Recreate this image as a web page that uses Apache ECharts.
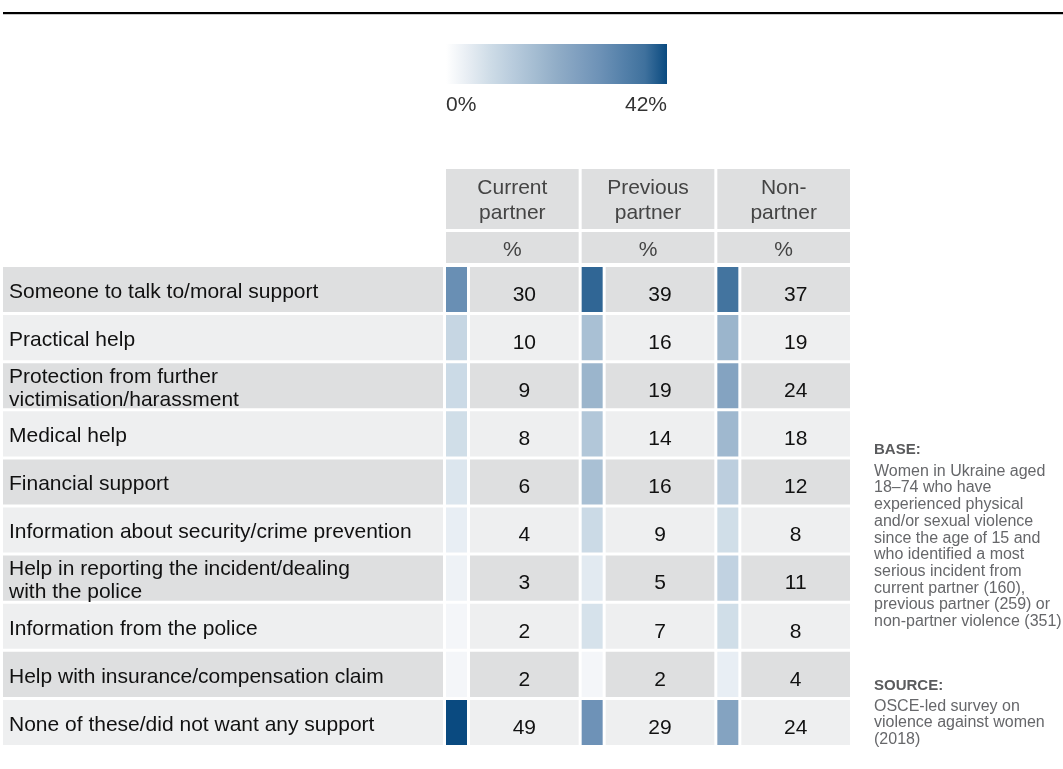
<!DOCTYPE html>
<html>
<head>
<meta charset="utf-8">
<title>Support wanted after the most serious incident</title>
<script src="https://cdn.jsdelivr.net/npm/echarts@6/dist/echarts.min.js"></script>
<style>
  html, body { margin: 0; padding: 0; background: #ffffff; }
  #chart { width: 1063px; height: 769px; }
</style>
</head>
<body>
<div id="chart"></div>
<script>
// ---- data ----
const supportTypes = [
  'Someone to talk to/moral support',
  'Practical help',
  'Protection from further\nvictimisation/harassment',
  'Medical help',
  'Financial support',
  'Information about security/crime prevention',
  'Help in reporting the incident/dealing\nwith the police',
  'Information from the police',
  'Help with insurance/compensation claim',
  'None of these/did not want any support'
];
const perpetratorGroups = ['Current\npartner', 'Previous\npartner', 'Non-\npartner'];
const currentPartner  = [30, 10,  9,  8,  6, 4,  3, 2, 2, 49];
const previousPartner = [39, 16, 19, 14, 16, 9,  5, 7, 2, 29];
const nonPartner      = [37, 19, 24, 18, 12, 8, 11, 8, 4, 24];
const scaleMin = 0;
const scaleMax = 42;
const unitLabel = '%';

const baseNote = 'Women in Ukraine aged\n18\u201374 who have\nexperienced physical\nand/or sexual violence\nsince the age of 15 and\nwho identified a most\nserious incident from\ncurrent partner (160),\nprevious partner (259) or\nnon-partner violence (351)';
const sourceNote = 'OSCE-led survey on\nviolence against women\n(2018)';

// ---- styling ----
const FONT = '"Liberation Sans", Arial, Helvetica, sans-serif';
const FS = 21;
const GAP = 3;
const SWATCH_W = 21;
const ROW_DARK = '#dedfe0';
const ROW_LIGHT = '#eeeff0';
const rampColors = ['#ffffff', '#e7edf3', '#cedce7', '#b9ccdd', '#a5bdd2', '#91adc7',
                    '#7f9fbf', '#6c91b6', '#5581aa', '#3f719d', '#0a4a80'];

const groupValues = [currentPartner, previousPartner, nonPartner];
const cellData = [];
groupValues.forEach((vals, c) => vals.forEach((v, r) => cellData.push([c, r, v])));
const labelData = supportTypes.map((_, r) => [0, r]);

const rowFill = (r) => (r % 2 === 0 ? ROW_DARK : ROW_LIGHT);

const chart = echarts.init(document.getElementById('chart'), null, { renderer: 'canvas' });

const gridValuesWidth = 407;
const bandW = gridValuesWidth / perpetratorGroups.length;
const boxW = bandW - GAP;

// colour bar for the legend, built from the same ramp the cells use
const legendGradient = new echarts.graphic.LinearGradient(0, 0, 1, 0,
  rampColors.map((color, i) => ({ offset: i / (rampColors.length - 1), color })));

const option = {
  animation: false,
  textStyle: { fontFamily: FONT },
  grid: [
    { left: 3, top: 267, width: 443, height: 481 },
    { left: 446, top: 267, width: gridValuesWidth, height: 481 }
  ],
  xAxis: [
    { gridIndex: 0, type: 'category', data: [''], show: false },
    {
      gridIndex: 1, type: 'category', data: perpetratorGroups, position: 'top',
      axisLine: { show: false }, axisTick: { show: false }, splitLine: { show: false },
      axisLabel: {
        interval: 0, margin: 4, hideOverlap: false,
        formatter: (name) => {
          const lines = name.split('\n').map((l) => `{h|${l}}{s| }`);
          return [`{gt| }{s| }`, ...lines, `{gb| }{s| }`, `{w| }`,
                  `{pt| }{s| }`, `{p|${unitLabel}}{s| }`].join('\n');
        },
        rich: {
          h:  { width: boxW, height: 25, lineHeight: 25, backgroundColor: ROW_DARK, align: 'center',
                fontSize: FS, color: '#444444', fontFamily: FONT },
          gt: { width: boxW, height: 7, lineHeight: 7, fontSize: 1, backgroundColor: ROW_DARK, align: 'center' },
          gb: { width: boxW, height: 3, lineHeight: 3, fontSize: 1, backgroundColor: ROW_DARK, align: 'center' },
          pt: { width: boxW, height: 6, lineHeight: 6, fontSize: 1, backgroundColor: ROW_DARK, align: 'center' },
          p:  { width: boxW, height: 25, lineHeight: 25, backgroundColor: ROW_DARK, align: 'center',
                fontSize: FS, color: '#444444', fontFamily: FONT },
          s:  { width: GAP, height: 1, lineHeight: 1, fontSize: 1, align: 'right' },
          w:  { width: 1, height: GAP, lineHeight: GAP, fontSize: 1 }
        }
      }
    }
  ],
  yAxis: [
    { gridIndex: 0, type: 'category', data: supportTypes, inverse: true, show: false },
    { gridIndex: 1, type: 'category', data: supportTypes, inverse: true, show: false }
  ],
  visualMap: {
    type: 'continuous',
    show: false,
    seriesIndex: 1,
    dimension: 2,
    min: scaleMin,
    max: scaleMax,
    inRange: { color: rampColors }
  },
  graphic: [
    { type: 'line', shape: { x1: 3, y1: 13, x2: 1063, y2: 13 }, style: { stroke: '#000000', lineWidth: 2 } },
    { type: 'line', shape: { x1: 3, y1: 14.5, x2: 1063, y2: 14.5 }, style: { stroke: '#c8c8c8', lineWidth: 1 } },
    { type: 'rect', shape: { x: 446, y: 44, width: 221, height: 40 }, style: { fill: legendGradient } },
    { type: 'text', left: 446, top: 95, style: { text: scaleMin + unitLabel, font: `${FS}px ${FONT}`, fill: '#333333' } },
    { type: 'text', right: 1063 - 667, top: 95, style: { text: scaleMax + unitLabel, font: `${FS}px ${FONT}`, fill: '#333333', textAlign: 'right' } },
    { type: 'text', left: 874, top: 442, style: { text: 'BASE:', font: `bold 15px ${FONT}`, fill: '#5a5b5d' } },
    { type: 'text', left: 874, top: 463, style: { text: baseNote, font: `16px ${FONT}`, lineHeight: 16.7, fill: '#66676a' } },
    { type: 'text', left: 874, top: 678, style: { text: 'SOURCE:', font: `bold 15px ${FONT}`, fill: '#5a5b5d' } },
    { type: 'text', left: 874, top: 698, style: { text: sourceNote, font: `16px ${FONT}`, lineHeight: 16.7, fill: '#66676a' } }
  ],
  series: [
    {
      // row label column
      type: 'custom',
      xAxisIndex: 0, yAxisIndex: 0,
      data: labelData,
      encode: { x: 0, y: 1 },
      silent: true,
      renderItem: (params, api) => {
        const r = api.value(1);
        const c = api.coord([api.value(0), r]);
        const s = api.size([1, 1]);
        const x0 = c[0] - s[0] / 2, y0 = c[1] - s[1] / 2;
        const w = s[0] - GAP, h = s[1] - GAP;
        return {
          type: 'group',
          children: [
            { type: 'rect', shape: { x: x0, y: y0, width: w, height: h }, style: { fill: rowFill(r) } },
            { type: 'text', x: x0 + 6, y: y0 + h / 2 + 2.5,
              style: { text: supportTypes[r], font: `${FS}px ${FONT}`, fill: '#111111',
                       textAlign: 'left', textVerticalAlign: 'middle', lineHeight: 23 } }
          ]
        };
      }
    },
    {
      // colour swatch + value cell per group
      type: 'custom',
      xAxisIndex: 1, yAxisIndex: 1,
      data: cellData,
      encode: { x: 0, y: 1 },
      silent: true,
      renderItem: (params, api) => {
        const r = api.value(1);
        const v = api.value(2);
        const c = api.coord([api.value(0), r]);
        const s = api.size([1, 1]);
        const x0 = c[0] - s[0] / 2, y0 = c[1] - s[1] / 2;
        const w = s[0] - GAP, h = s[1] - GAP;
        const cellX = x0 + SWATCH_W + GAP;
        const cellW = w - SWATCH_W - GAP;
        return {
          type: 'group',
          children: [
            { type: 'rect', shape: { x: x0, y: y0, width: SWATCH_W, height: h }, style: { fill: api.visual('color') } },
            { type: 'rect', shape: { x: cellX, y: y0, width: cellW, height: h }, style: { fill: rowFill(r) } },
            { type: 'text', x: cellX + cellW / 2, y: y0 + h / 2 + 5.5,
              style: { text: String(v), font: `${FS}px ${FONT}`, fill: '#111111',
                       textAlign: 'center', textVerticalAlign: 'middle' } }
          ]
        };
      }
    }
  ]
};

chart.setOption(option);
</script>
</body>
</html>
